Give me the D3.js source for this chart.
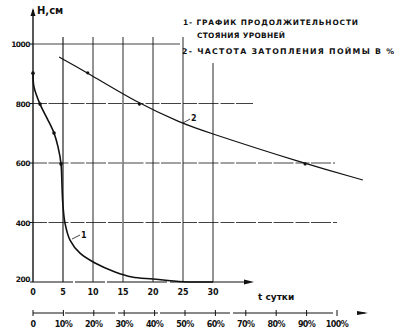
<!DOCTYPE html>
<html><head><meta charset="utf-8">
<script src="https://cdn.jsdelivr.net/npm/d3@7"></script>
<style>body{margin:0;background:#fff}svg{display:block}text{font-family:"DejaVu Sans",sans-serif;fill:#111}</style>
</head><body><svg id="c" width="401" height="335"></svg>
<script>
// Data
const hTicks = [200, 400, 600, 800, 1000];
const dayTicks = [0, 5, 10, 15, 20, 25, 30];
const pctTicks = [0, 10, 20, 30, 40, 50, 60, 70, 80, 90, 100];
const pctLabels = ["0","10%","20%","30%","40%","50%","60%","70%","80%","90%","100%"];
// curve 1: duration of levels (days, H cm)
const c1Days = [0.0, 0.17, 1.17, 2.33, 3.5, 4.17, 4.67, 4.83, 4.95, 5.33, 6.17, 7.83, 10.33, 13.67, 16.5, 20, 25, 30];
const c1H    = [902, 855, 798, 751, 701, 654, 597, 526, 470, 398, 341, 297, 264, 234, 217, 210, 201, 200];
const c1Marks = [0.0, 1.17, 3.5, 4.67];
// curve 2: floodplain inundation frequency (%, H cm)
const c2Pct = [8.6, 18, 35, 49, 55, 89.5, 108.5];
const c2H   = [956, 903, 798, 734, 711, 597, 543];
const c2MarkPct = [18, 35, 89.5];
const legend = ["1- ГРАФИК ПРОДОЛЖИТЕЛЬНОСТИ", "СТОЯНИЯ УРОВНЕЙ", "2- ЧАСТОТА ЗАТОПЛЕНИЯ ПОЙМЫ В %"];

const svg = d3.select("#c");
const x = d3.scaleLinear().domain([0, 30]).range([33, 213]);
const y = d3.scaleLinear().domain([200, 1000]).range([282, 44]);
const xp = d3.scaleLinear().domain([0, 100]).range([33, 337]);
const ink = "#111";

// grid horizontal
const hEnds = {1000: 180, 800: 253, 600: 335, 400: 337};
[400, 600, 800, 1000].forEach(h => {
  svg.append("line").attr("x1", x(0)).attr("x2", hEnds[h]).attr("y1", y(h)).attr("y2", y(h))
    .attr("stroke", ink).attr("stroke-width", 0.8).attr("stroke-dasharray", h===1000?null:"14,1.5,20,2");
});
// grid vertical
[5, 10, 15, 20, 25, 30].forEach(d => {
  svg.append("line").attr("x1", x(d)).attr("x2", x(d)).attr("y1", d===30?63:37).attr("y2", y(200))
    .attr("stroke", ink).attr("stroke-width", d===5?1.1:0.9);
});

// y axis
svg.append("line").attr("x1", x(0)).attr("x2", x(0)).attr("y1", 10).attr("y2", y(200)).attr("stroke", ink).attr("stroke-width", 1.4);
svg.append("path").attr("d", `M${x(0)-2.5},16 L${x(0)},8 L${x(0)+2.5},16 Z`).attr("fill", ink);
hTicks.forEach(h => {
  svg.append("line").attr("x1", x(0)-3).attr("x2", x(0)).attr("y1", y(h)).attr("y2", y(h)).attr("stroke", ink);
  svg.append("text").attr("x", x(0)-3).attr("y", y(h) + (h===200?0:3)).attr("text-anchor", "end")
    .attr("font-size", 7.5).attr("font-weight", "bold").attr("letter-spacing", -0.5).text(h);
});
svg.append("text").attr("x", 37).attr("y", 14).attr("font-size", 10).attr("font-weight", "bold").text("H,см");

// x axis (days)
svg.append("line").attr("x1", x(0)).attr("x2", 252).attr("y1", y(200)).attr("y2", y(200)).attr("stroke", ink).attr("stroke-width", 1.2).attr("stroke-dasharray", "40,2,30,2,60,3,80");
svg.append("path").attr("d", `M244,${y(200)-2.5} L254,${y(200)} L244,${y(200)+2.5} Z`).attr("fill", ink);
dayTicks.forEach(d => {
  svg.append("text").attr("x", x(d)).attr("y", 295).attr("text-anchor", "middle")
    .attr("font-size", 8).attr("font-weight", "bold").text(d);
});
svg.append("text").attr("x", 258).attr("y", 300).attr("font-size", 9).attr("font-weight", "bold").text("t сутки");

// percent axis
svg.append("line").attr("x1", xp(0)).attr("x2", 367).attr("y1", 313).attr("y2", 313).attr("stroke", ink).attr("stroke-width", 1).attr("stroke-dasharray", "30,2,50,3,40,2,70,3,100");
svg.append("path").attr("d", `M357,311 L368,313 L357,315 Z`).attr("fill", ink);
pctTicks.forEach((p, i) => {
  svg.append("line").attr("x1", xp(p)).attr("x2", xp(p)).attr("y1", 310).attr("y2", 316).attr("stroke", ink);
  svg.append("text").attr("x", xp(p)).attr("y", 327).attr("text-anchor", "middle")
    .attr("font-size", 8).attr("font-weight", "bold").attr("letter-spacing", -0.6).text(pctLabels[i]);
});

// curve 1
const c1 = c1Days.map((d, i) => [x(d), y(c1H[i])]);
svg.append("path").attr("d", d3.line().curve(d3.curveCatmullRom.alpha(0.5))(c1))
  .attr("fill", "none").attr("stroke", ink).attr("stroke-width", 1.6);
c1Marks.forEach(d => {
  const i = c1Days.indexOf(d);
  svg.append("circle").attr("cx", x(d)).attr("cy", y(c1H[i])).attr("r", 1.8).attr("fill", ink);
});
svg.append("line").attr("x1", 72).attr("y1", 239).attr("x2", 80).attr("y2", 235).attr("stroke", ink).attr("stroke-width", 0.8);
svg.append("text").attr("x", 81).attr("y", 238).attr("font-size", 8).attr("font-weight", "bold").text("1");

// curve 2
const c2 = c2Pct.map((p, i) => [xp(p), y(c2H[i])]);
svg.append("path").attr("d", d3.line().curve(d3.curveBasis)(c2))
  .attr("fill", "none").attr("stroke", ink).attr("stroke-width", 1.2);
c2MarkPct.forEach(p => {
  const i = c2Pct.indexOf(p);
  svg.append("circle").attr("cx", xp(p)).attr("cy", y(c2H[i])).attr("r", 1.6).attr("fill", ink);
});
svg.append("line").attr("x1", 183).attr("y1", 123).attr("x2", 190).attr("y2", 119).attr("stroke", ink).attr("stroke-width", 0.8);
svg.append("text").attr("x", 191).attr("y", 121).attr("font-size", 8).attr("font-weight", "bold").text("2");

// legend
svg.append("text").attr("x", 183).attr("y", 25).attr("font-size", 7.4).attr("font-weight", "bold")
  .attr("textLength", 175).attr("lengthAdjust", "spacing").text(legend[0]);
svg.append("text").attr("x", 197).attr("y", 38).attr("font-size", 7.4).attr("font-weight", "bold")
  .attr("textLength", 88).attr("lengthAdjust", "spacing").text(legend[1]);
svg.append("text").attr("x", 182).attr("y", 54).attr("font-size", 7.8).attr("font-weight", "bold")
  .attr("textLength", 212).attr("lengthAdjust", "spacing").text(legend[2]);
</script></body></html>
